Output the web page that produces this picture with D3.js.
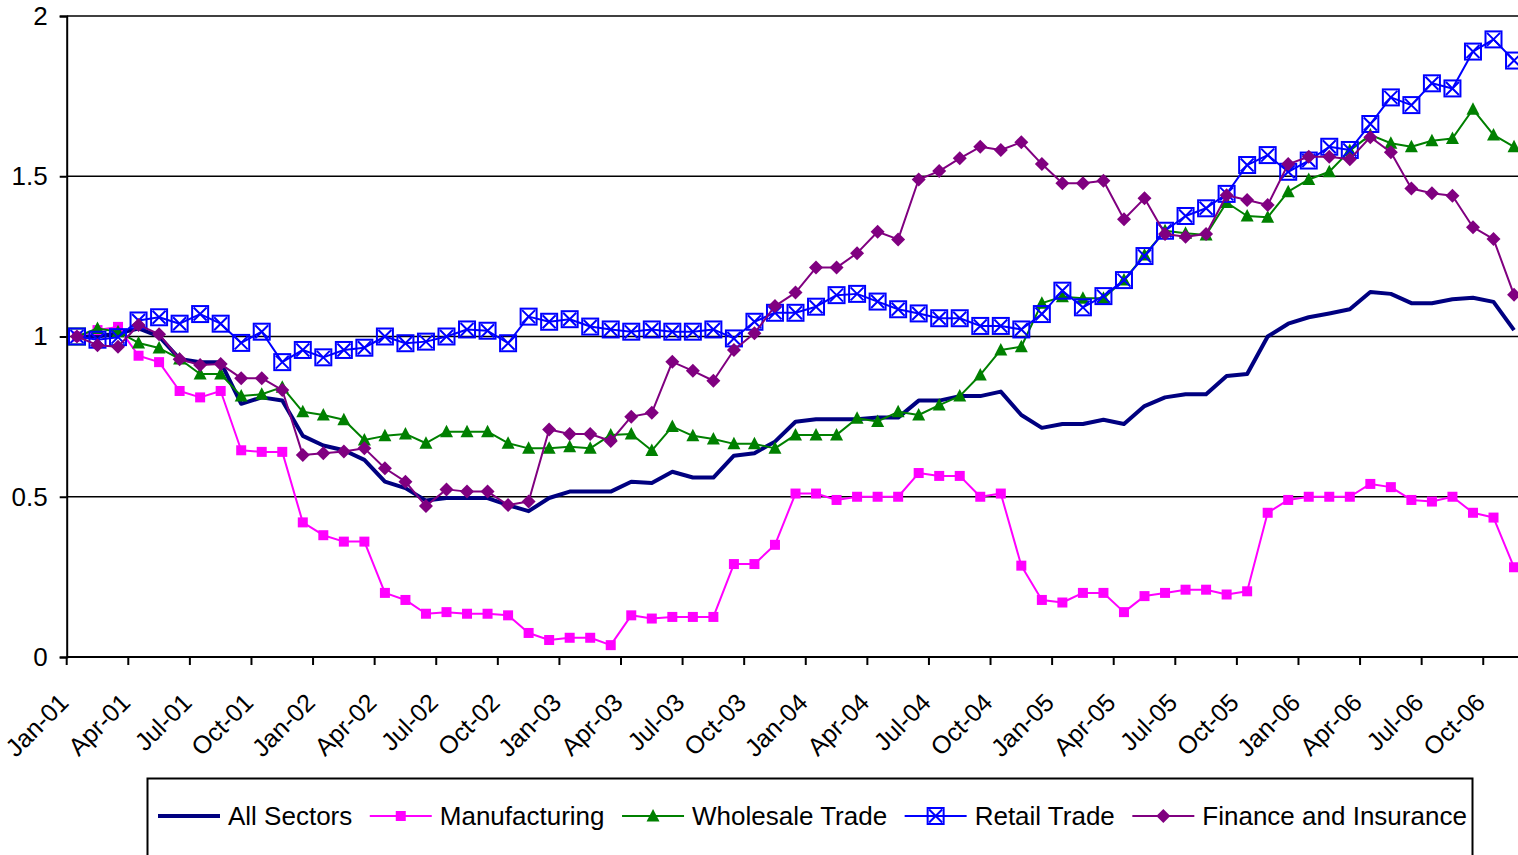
<!DOCTYPE html>
<html>
<head>
<meta charset="utf-8">
<script src="https://cdn.jsdelivr.net/npm/d3@7"></script>
<style>
  html, body { margin: 0; padding: 0; background: #fff; }
  svg { display: block; font-family: Arial, "Liberation Sans", sans-serif; }
</style>
</head>
<body>
<div id="chart"></div>
<script>
// months Jan-01 .. Nov-06
var months = d3.timeMonth.range(new Date(2001, 0, 1), new Date(2006, 11, 1));
var fmt = d3.timeFormat("%b-%y");
var categories = months.map(fmt);

var yTicks = [0, 0.5, 1, 1.5, 2];

var allSectors = [1.0, 1.0, 1.01, 1.025, 1.0, 0.93, 0.92, 0.92, 0.79, 0.81, 0.80, 0.69,
  0.66, 0.645, 0.615, 0.547, 0.527, 0.488, 0.496, 0.496, 0.496, 0.474, 0.455, 0.496,
  0.516, 0.516, 0.516, 0.547, 0.543, 0.578, 0.56, 0.56, 0.628, 0.636, 0.672, 0.734,
  0.742, 0.742, 0.742, 0.747, 0.747, 0.80, 0.80, 0.814, 0.814, 0.828, 0.755, 0.715,
  0.727, 0.727, 0.74, 0.727, 0.783, 0.81, 0.82, 0.82, 0.877, 0.883, 1.0, 1.04,
  1.06, 1.072, 1.085, 1.139, 1.133, 1.104, 1.104, 1.116, 1.121, 1.108, 1.02];

var manufacturing = [1.0, 1.02, 1.03, 0.94, 0.92, 0.83, 0.81, 0.83, 0.645, 0.64, 0.64, 0.42,
  0.38, 0.36, 0.36, 0.20, 0.178, 0.135, 0.14, 0.135, 0.135, 0.13, 0.075, 0.053,
  0.06, 0.06, 0.037, 0.13, 0.12, 0.125, 0.125, 0.125, 0.29, 0.29, 0.35, 0.51,
  0.51, 0.49, 0.50, 0.50, 0.50, 0.574, 0.565, 0.565, 0.50, 0.51, 0.285, 0.178,
  0.17, 0.20, 0.20, 0.14, 0.19, 0.20, 0.21, 0.21, 0.195, 0.205, 0.45, 0.49,
  0.50, 0.50, 0.50, 0.54, 0.53, 0.49, 0.485, 0.50, 0.45, 0.435, 0.28];

var wholesale = [1.0, 1.025, 1.015, 0.98, 0.964, 0.93, 0.883, 0.883, 0.814, 0.82, 0.842, 0.765,
  0.755, 0.74, 0.677, 0.69, 0.696, 0.667, 0.703, 0.703, 0.703, 0.667, 0.651, 0.651,
  0.656, 0.651, 0.693, 0.696, 0.644, 0.719, 0.69, 0.68, 0.665, 0.665, 0.651, 0.693,
  0.693, 0.693, 0.745, 0.735, 0.765, 0.755, 0.786, 0.814, 0.88, 0.958, 0.968, 1.104,
  1.124, 1.119, 1.119, 1.176, 1.254, 1.33, 1.322, 1.317, 1.418, 1.376, 1.372, 1.452,
  1.49, 1.514, 1.58, 1.629, 1.603, 1.592, 1.611, 1.618, 1.709, 1.629, 1.592];

var retail = [1.0, 0.99, 0.998, 1.05, 1.06, 1.04, 1.07, 1.04, 0.98, 1.015, 0.92, 0.958,
  0.935, 0.958, 0.965, 1.0, 0.979, 0.984, 1.0, 1.022, 1.018, 0.979, 1.062, 1.046,
  1.054, 1.031, 1.022, 1.015, 1.022, 1.015, 1.015, 1.022, 0.994, 1.046, 1.074, 1.074,
  1.093, 1.129, 1.133, 1.109, 1.085, 1.072, 1.057, 1.057, 1.033, 1.033, 1.022, 1.07,
  1.143, 1.091, 1.126, 1.176, 1.251, 1.33, 1.376, 1.40, 1.445, 1.535, 1.566, 1.514,
  1.549, 1.592, 1.582, 1.663, 1.746, 1.722, 1.79, 1.774, 1.889, 1.927, 1.861];

var finance = [1.0, 0.973, 0.968, 1.036, 1.007, 0.929, 0.911, 0.914, 0.87, 0.87, 0.833, 0.63,
  0.636, 0.641, 0.651, 0.589, 0.547, 0.471, 0.523, 0.516, 0.516, 0.474, 0.485, 0.71,
  0.696, 0.696, 0.674, 0.75, 0.762, 0.921, 0.893, 0.862, 0.958, 1.01, 1.095, 1.137,
  1.215, 1.215, 1.26, 1.327, 1.303, 1.49, 1.516, 1.556, 1.592, 1.582, 1.606, 1.538,
  1.478, 1.478, 1.486, 1.366, 1.431, 1.32, 1.311, 1.32, 1.441, 1.426, 1.41, 1.538,
  1.561, 1.561, 1.553, 1.622, 1.575, 1.462, 1.447, 1.439, 1.341, 1.304, 1.13];

var seriesNames = ["All Sectors", "Manufacturing", "Wholesale Trade", "Retail Trade", "Finance and Insurance"];
var seriesColors = ["#000080", "#FF00FF", "#008000", "#0000FF", "#800080"];
var seriesMarkers = ["none", "square", "triangle", "boxx", "diamond"];
var seriesValues = [allSectors, manufacturing, wholesale, retail, finance];

var W = 1518, H = 855;
var margin = {left: 66.7, top: 16, right: -6.3, bottom: 198};
var fontSize = 26;

var svg = d3.select("#chart").append("svg")
  .attr("width", W)
  .attr("height", H);

var x = d3.scaleBand()
  .domain(categories)
  .range([margin.left, W - margin.right])
  .paddingInner(0).paddingOuter(0);

var y = d3.scaleLinear()
  .domain([0, 2])
  .range([H - margin.bottom, margin.top]);

var cx = function (i) { return x(categories[i]) + x.bandwidth() / 2; };

// gridlines
svg.append("g")
  .selectAll("line")
  .data(yTicks.filter(function (d) { return d > 0; }))
  .enter()
  .append("line")
  .attr("x1", margin.left)
  .attr("x2", W - margin.right)
  .attr("y1", function (d) { return y(d); })
  .attr("y2", function (d) { return y(d); })
  .attr("stroke", "#000")
  .attr("stroke-width", 1.5);

// y axis
var yAxis = svg.append("g")
  .attr("transform", "translate(" + margin.left + ",0)")
  .call(d3.axisLeft(y).tickValues(yTicks).tickSize(7).tickPadding(12).tickFormat(d3.format("")));
yAxis.select(".domain").attr("stroke", "#000").attr("stroke-width", 2);
yAxis.selectAll(".tick line").attr("stroke", "#000").attr("stroke-width", 2);
yAxis.selectAll(".tick text")
  .attr("font-size", fontSize)
  .attr("font-family", "Arial, 'Liberation Sans', sans-serif")
  .attr("fill", "#000");

// x axis
var xAxisG = svg.append("g")
  .attr("transform", "translate(0," + (H - margin.bottom) + ")");
xAxisG.append("line")
  .attr("x1", margin.left).attr("x2", W - margin.right)
  .attr("stroke", "#000").attr("stroke-width", 2);
var tickIdx = categories.map(function (d, i) { return i; }).filter(function (i) { return i % 3 === 0; });
xAxisG.selectAll(".xt")
  .data(tickIdx)
  .enter()
  .append("line")
  .attr("class", "xt")
  .attr("x1", function (i) { return x(categories[i]); })
  .attr("x2", function (i) { return x(categories[i]); })
  .attr("y1", 0).attr("y2", 8)
  .attr("stroke", "#000").attr("stroke-width", 2);
xAxisG.selectAll(".xl")
  .data(tickIdx)
  .enter()
  .append("text")
  .attr("class", "xl")
  .attr("transform", function (i) { return "translate(" + (cx(i) - 13) + ",41) rotate(-45)"; })
  .attr("text-anchor", "end")
  .attr("dy", "0.35em")
  .attr("font-size", 25)
  .attr("fill", "#000")
  .text(function (i) { return categories[i]; });

// clip plot area (right edge beyond page)
svg.append("clipPath").attr("id", "plotclip")
  .append("rect")
  .attr("x", margin.left - 12).attr("y", margin.top - 12)
  .attr("width", W - margin.left - margin.right + 24)
  .attr("height", H - margin.top - margin.bottom + 24);

var plot = svg.append("g").attr("clip-path", "url(#plotclip)");

var line = d3.line()
  .x(function (d, i) { return cx(i); })
  .y(function (d) { return y(d); });

function drawMarker(g, type, color, px, py) {
  if (type === "square") {
    g.append("rect")
      .attr("x", px - 5).attr("y", py - 5)
      .attr("width", 10).attr("height", 10)
      .attr("fill", color);
  } else if (type === "triangle") {
    g.append("path")
      .attr("d", "M" + px + "," + (py - 7) + "L" + (px + 6.5) + "," + (py + 5.5) + "L" + (px - 6.5) + "," + (py + 5.5) + "Z")
      .attr("fill", color);
  } else if (type === "diamond") {
    g.append("path")
      .attr("d", "M" + px + "," + (py - 7) + "L" + (px + 7) + "," + py + "L" + px + "," + (py + 7) + "L" + (px - 7) + "," + py + "Z")
      .attr("fill", color);
  } else if (type === "boxx") {
    g.append("rect")
      .attr("x", px - 8).attr("y", py - 8)
      .attr("width", 16).attr("height", 16)
      .attr("fill", "none").attr("stroke", color).attr("stroke-width", 2);
    g.append("path")
      .attr("d", "M" + (px - 6.5) + "," + (py - 6.5) + "L" + (px + 6.5) + "," + (py + 6.5) +
        "M" + (px + 6.5) + "," + (py - 6.5) + "L" + (px - 6.5) + "," + (py + 6.5))
      .attr("fill", "none").attr("stroke", color).attr("stroke-width", 2);
  } else if (type === "hollowsquare") {
    g.append("rect")
      .attr("x", px - 8).attr("y", py - 8)
      .attr("width", 16).attr("height", 16)
      .attr("fill", "none").attr("stroke", color).attr("stroke-width", 2);
  }
}

seriesValues.forEach(function (vals, s) {
  var g = plot.append("g");
  g.append("path")
    .datum(vals)
    .attr("d", line)
    .attr("fill", "none")
    .attr("stroke", seriesColors[s])
    .attr("stroke-width", s === 0 ? 4 : 2)
    .attr("stroke-linejoin", "round");
  if (seriesMarkers[s] !== "none") {
    vals.forEach(function (v, i) {
      // the first wholesale point is drawn as an open square in the original
      var m = (s === 2 && i === 0) ? "hollowsquare" : seriesMarkers[s];
      drawMarker(g, m, seriesColors[s], cx(i), y(v));
    });
  }
});

// legend
var leg = svg.append("g");
leg.append("rect")
  .attr("x", 147.5).attr("y", 778.5)
  .attr("width", 1325).attr("height", 120)
  .attr("fill", "#fff").attr("stroke", "#000").attr("stroke-width", 2);

var lx = 158, ly = 816;
seriesNames.forEach(function (name, s) {
  var g = leg.append("g");
  g.append("line")
    .attr("x1", lx).attr("x2", lx + 62)
    .attr("y1", ly).attr("y2", ly)
    .attr("stroke", seriesColors[s])
    .attr("stroke-width", s === 0 ? 4 : 2);
  drawMarker(g, seriesMarkers[s], seriesColors[s], lx + 31, ly);
  var t = g.append("text")
    .attr("x", lx + 70).attr("y", ly)
    .attr("dy", "0.35em")
    .attr("font-size", fontSize)
    .attr("fill", "#000")
    .text(name);
  lx += 70 + t.node().getComputedTextLength() + 17.5;
});
</script>
</body>
</html>
